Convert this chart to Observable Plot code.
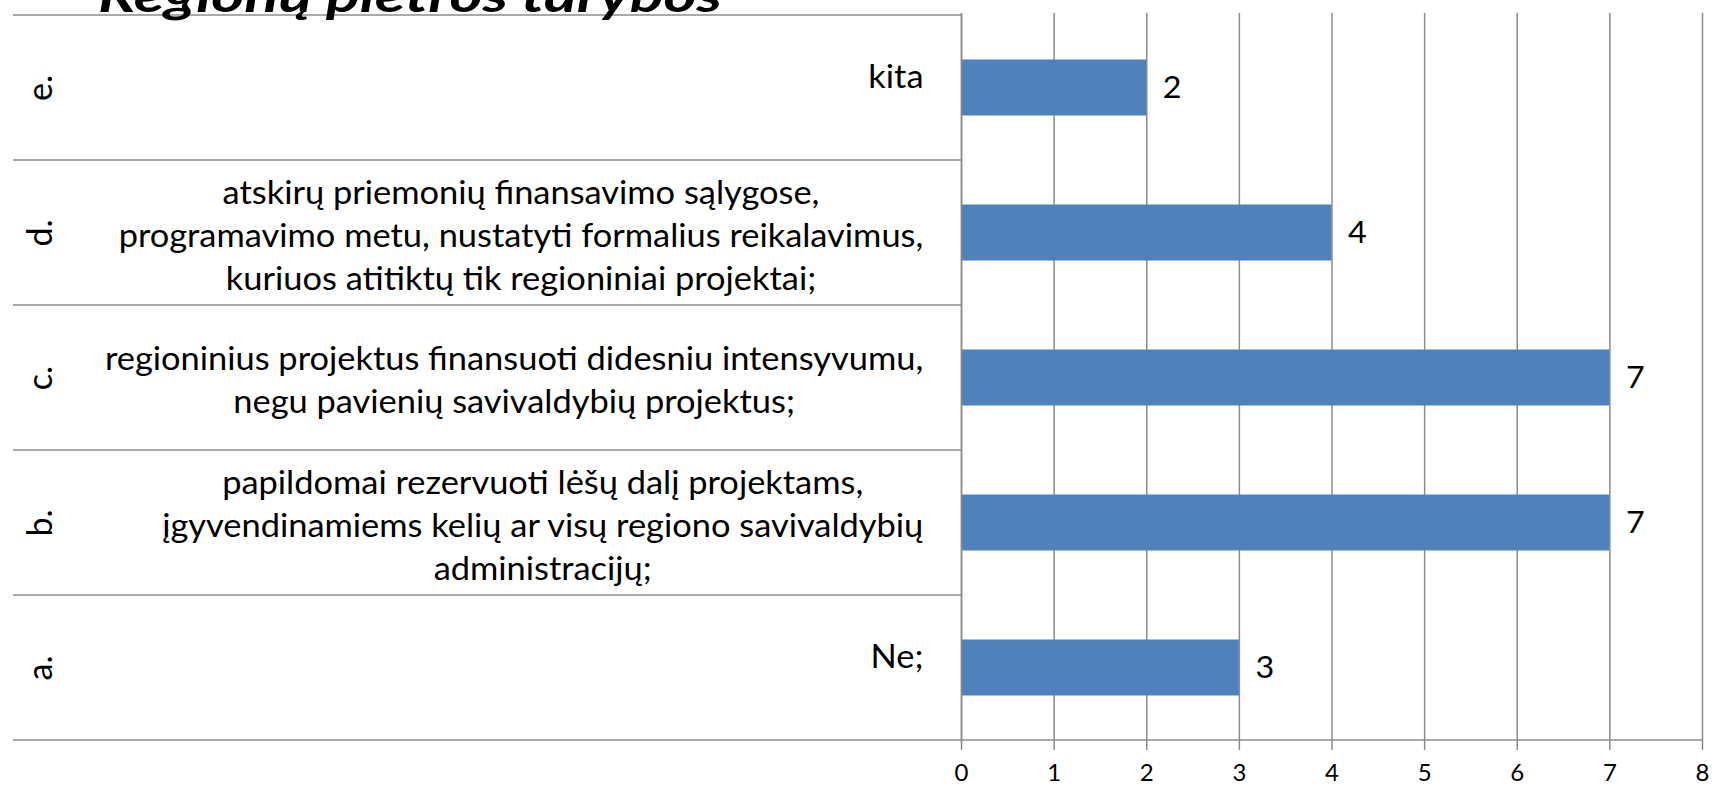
<!DOCTYPE html>
<html><head><meta charset="utf-8">
<script src="https://cdn.jsdelivr.net/npm/d3@7"></script>
<script src="https://cdn.jsdelivr.net/npm/@observablehq/plot@0.6"></script>
<style>
html,body{margin:0;padding:0;background:#fff;overflow:hidden}
#wrap{position:relative;width:1713px;height:785px}
</style></head><body><div id="wrap"></div>
<script>
const title = "Regionų plėtros tarybos";
const letters = ["a.", "b.", "c.", "d.", "e."];
const labels = [
  "Ne;",
  "papildomai rezervuoti lėšų dalį projektams,\nįgyvendinamiems kelių ar visų regiono savivaldybių\nadministracijų;",
  "regioninius projektus finansuoti didesniu intensyvumu,\nnegu pavienių savivaldybių projektus;",
  "atskirų priemonių finansavimo sąlygose,\nprogramavimo metu, nustatyti formalius reikalavimus,\nkuriuos atitiktų tik regioniniai projektai;",
  "kita"
];
const values = [3, 7, 7, 4, 2];
const xTicks = [0, 1, 2, 3, 4, 5, 6, 7, 8];

const rows = letters.map((l, i) => ({letter: l, label: labels[i], value: values[i]}));
const GRAY = "#8c8c8c";
const FONT = "Lato, 'Open Sans', sans-serif";

const plot = Plot.plot({
  width: 1713, height: 785,
  marginLeft: 961, marginRight: 11, marginTop: 13, marginBottom: 43,
  style: {fontFamily: FONT, background: "white", color: "#000"},
  x: {domain: [0, 8], label: null},
  y: {domain: [...letters].reverse(), padding: 0, axis: null},
  marks: [
    Plot.gridX(xTicks, {stroke: GRAY, strokeOpacity: 1, strokeWidth: 1.5}),
    Plot.axisX(xTicks, {tickSize: 8, tickPadding: 13, fontSize: 24, stroke: GRAY, strokeWidth: 1.5, tickFormat: d => String(d), label: null}),
    Plot.barX(rows, {x: "value", y: "letter", fill: "#4F81BD", insetTop: 44.5, insetBottom: 44.5}),
    Plot.ruleX([0], {stroke: GRAY, strokeWidth: 1.5}),
    Plot.text(rows, {x: "value", y: "letter", text: d => String(d.value), textAnchor: "start", dx: 16, fontSize: 30, fill: "#000", ariaLabel: () => "vallabel"}),
    Plot.text(rows, {y: "letter", text: "label", frameAnchor: "left", textAnchor: "middle", lineAnchor: "middle", fontSize: 32, lineHeight: 1.34, fill: "#000", ariaLabel: () => "catlabel"}),
    Plot.text(rows, {y: "letter", text: "letter", frameAnchor: "left", dx: -920, rotate: -90, textAnchor: "middle", fontSize: 34, fill: "#000", ariaLabel: () => "letter"})
  ]
});
document.getElementById("wrap").appendChild(plot);

const svg = d3.select(plot);
const ys = plot.scale("y");
const bw = ys.bandwidth;
const xs = plot.scale("x");
const x0 = xs.apply(0), x8 = xs.apply(8);

// table separator lines in the left area + bottom axis line
const lines = svg.append("g").attr("aria-label", "table-lines").attr("stroke", GRAY).attr("stroke-width", 1.5);
letters.forEach(l => {
  const top = ys.apply(l);
  lines.append("line").attr("x1", 13).attr("x2", x0).attr("y1", top).attr("y2", top);
});
const bottom = ys.apply(letters[0]) + bw;
lines.append("line").attr("x1", 13).attr("x2", x8).attr("y1", bottom).attr("y2", bottom);

// horizontal compression to match the reference text widths
let sx = 1;
svg.selectAll('text[aria-label="catlabel"] tspan').each(function() {
  if (this.textContent.startsWith("programavimo")) sx = 805 / this.getComputedTextLength();
});
const RIGHT = 923;
svg.selectAll('text[aria-label="catlabel"]').each(function() {
  const i = this.__data__;
  const w = this.getBBox().width;
  const y = ys.apply(rows[i].letter); // the group already carries the half-band offset
  this.removeAttribute("x"); this.removeAttribute("y");
  this.setAttribute("transform", `translate(${RIGHT - sx * w / 2},${y}) scale(${sx},1)`);
});
svg.selectAll('text[aria-label="vallabel"]').each(function() {
  const t = this.getAttribute("transform");
  if (t) this.setAttribute("transform", t + ` scale(${sx},1)`);
});

// title, cut off at the top like the reference
svg.append("text")
  .attr("x", 98).attr("y", 12)
  .attr("text-anchor", "start")
  .attr("font-family", FONT).attr("font-weight", 700).attr("font-style", "italic")
  .attr("font-size", 46).attr("fill", "#000")
  .attr("textLength", 624).attr("lengthAdjust", "spacingAndGlyphs")
  .text(title);
</script></body></html>
